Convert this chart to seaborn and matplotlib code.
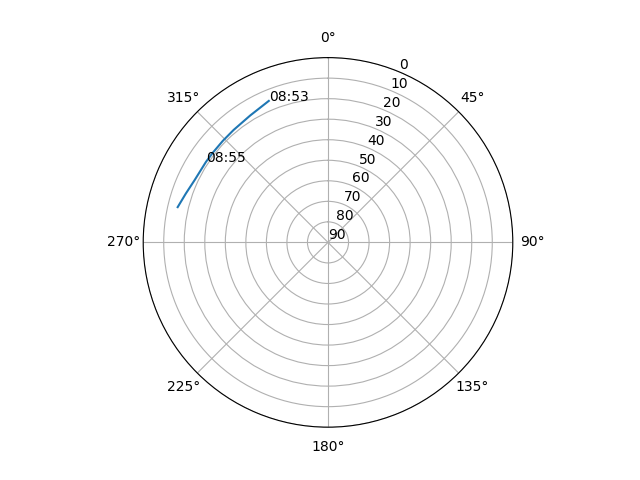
import numpy as np
import pandas as pd
import matplotlib
matplotlib.use("Agg")
import matplotlib.pyplot as plt
import seaborn as sns

# satellite pass
times = ["08:53:00", "08:53:30", "08:54:00", "08:54:20", "08:54:40",
         "08:55:00", "08:55:30", "08:55:50", "08:56:10"]
azimuth = [337.3, 328.5, 320.0, 314.0, 308.0, 303.4, 295.0, 289.0, 283.2]
elevation = [15.3, 17.5, 18.5, 18.8, 18.9, 18.8, 18.3, 16.8, 14.8]
labelled = ["08:53:00", "08:55:00"]

df = pd.DataFrame({"time": times, "az": np.radians(azimuth), "el": elevation})

fig = plt.figure(figsize=(6.4, 4.8), dpi=100)
ax = fig.add_subplot(111, projection="polar")
ax.set_theta_zero_location("N")
ax.set_theta_direction(-1)

sns.lineplot(data=df, x="az", y="el", sort=False, ax=ax)
ax.set_xlabel("")
ax.set_ylabel("")

for _, row in df[df["time"].isin(labelled)].iterrows():
    ax.text(row["az"], row["el"], row["time"][:5])

ax.set_ylim(90, 0)
ax.set_yticks(range(0, 91, 10))

fig.savefig("out.png")
